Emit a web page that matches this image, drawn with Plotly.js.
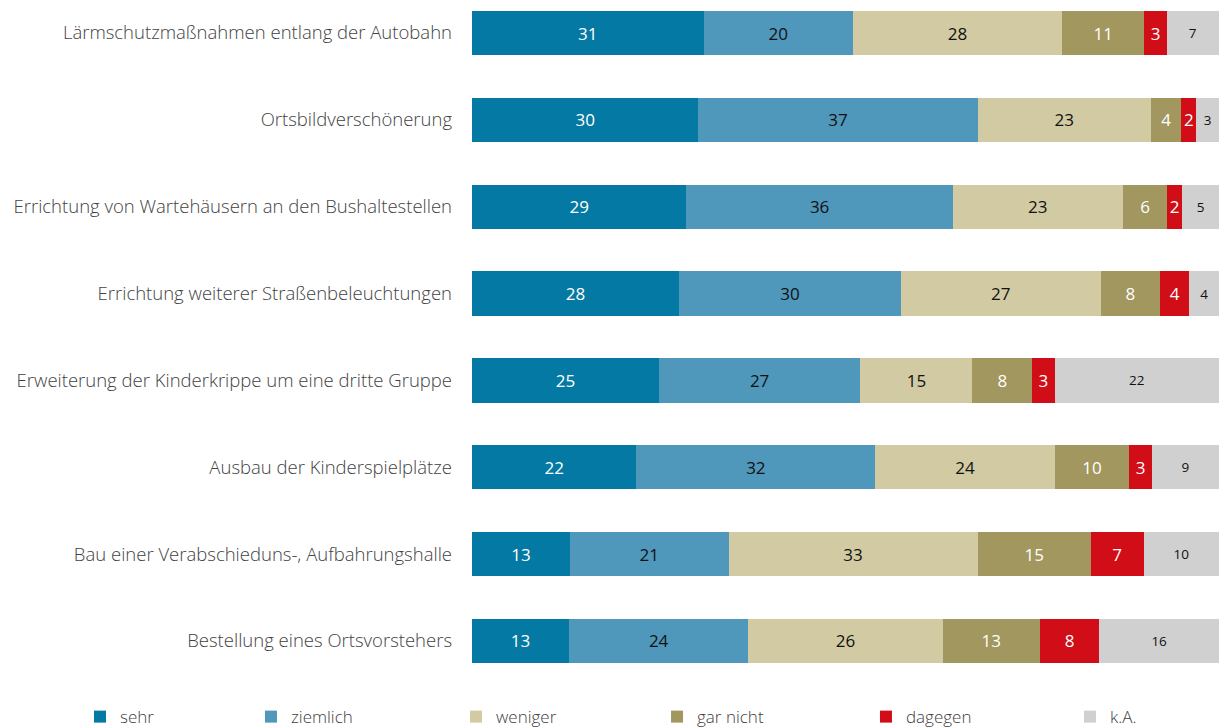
<!DOCTYPE html>
<html>
<head>
<meta charset="utf-8">
<script src="https://cdn.plot.ly/plotly-3.0.1.min.js"></script>
<style>html,body{margin:0;padding:0;background:#fff;}#chart{width:1219px;height:727px;}</style>
</head>
<body>
<div id="chart"></div>
<script>
const categories = [
  "Lärmschutzmaßnahmen entlang der Autobahn",
  "Ortsbildverschönerung",
  "Errichtung von Wartehäusern an den Bushaltestellen",
  "Errichtung weiterer Straßenbeleuchtungen",
  "Erweiterung der Kinderkrippe um eine dritte Gruppe",
  "Ausbau der Kinderspielplätze",
  "Bau einer Verabschieduns-, Aufbahrungshalle",
  "Bestellung eines Ortsvorstehers"
];
const seriesNames = ["sehr", "ziemlich", "weniger", "gar nicht", "dagegen", "k.A."];
const sehr     = [31, 30, 29, 28, 25, 22, 13, 13];
const ziemlich = [20, 37, 36, 30, 27, 32, 21, 24];
const weniger  = [28, 23, 23, 27, 15, 24, 33, 26];
const garNicht = [11, 4, 6, 8, 8, 10, 15, 13];
const dagegen  = [3, 2, 2, 4, 3, 3, 7, 8];
const kA       = [7, 3, 5, 4, 22, 9, 10, 16];

const seriesValues = [sehr, ziemlich, weniger, garNicht, dagegen, kA];
const colors = ["#0479A3", "#4F97BB", "#D2CAA2", "#A1975F", "#D10D17", "#D0D0D0"];
const textColors = ["#ffffff", "#111111", "#111111", "#ffffff", "#ffffff", "#111111"];
const textSizes = [17, 17, 17, 17, 17, 13.5];
const legendIds = ["legend", "legend2", "legend3", "legend4", "legend5", "legend6"];
const legendX = [-0.5248, -0.2959, -0.0214, 0.2477, 0.5274, 0.8005];

const traces = seriesNames.map((name, i) => ({
  type: "bar",
  orientation: "h",
  name: name,
  legend: legendIds[i],
  y: categories,
  x: seriesValues[i],
  text: seriesValues[i].map(String),
  textposition: "inside",
  insidetextanchor: "middle",
  constraintext: "none",
  textfont: {family: "Open Sans", size: textSizes[i], color: textColors[i], weight: 400},
  marker: {color: colors[i], line: {width: 0}},
  hoverinfo: "name+x+y"
}));

const layout = {
  width: 1219,
  height: 727,
  barmode: "stack",
  barnorm: "percent",
  bargap: 0.49,
  margin: {l: 472, r: 0, t: 0, b: 47, autoexpand: false},
  paper_bgcolor: "#ffffff",
  plot_bgcolor: "#ffffff",
  font: {family: "Open Sans", color: "#404040", size: 16, weight: 300},
  xaxis: {range: [0, 100], showgrid: false, zeroline: false, showticklabels: false, showline: false, fixedrange: true},
  yaxis: {
    range: [7.45, -0.38],
    showgrid: false, zeroline: false, showline: false, ticks: "",
    ticklabelstandoff: 19,
    tickfont: {family: "Open Sans", size: 18.5, color: "#424242", weight: 300}
  },
  showlegend: true
};
legendIds.forEach((id, i) => {
  layout[id] = {
    orientation: "h",
    x: legendX[i], xanchor: "left",
    y: -0.0545, yanchor: "middle",
    xref: "paper",
    itemwidth: 30,
    bgcolor: "rgba(0,0,0,0)",
    font: {family: "Open Sans", size: 17, color: "#404040", weight: 300}
  };
});

Plotly.newPlot("chart", traces, layout, {displayModeBar: false, staticPlot: true});
</script>
</body>
</html>
